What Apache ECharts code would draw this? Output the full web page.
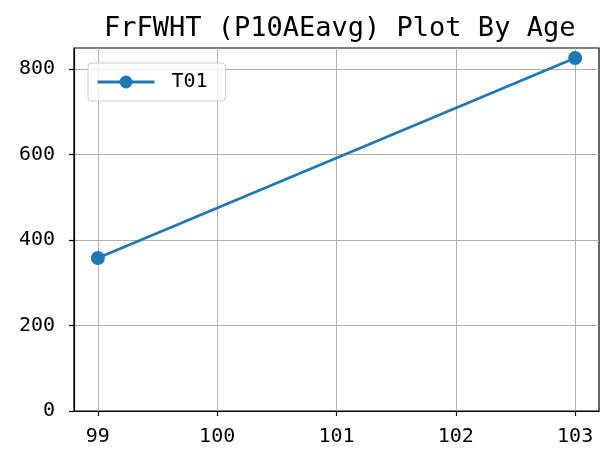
<!DOCTYPE html>
<html><head><meta charset="utf-8">
<script src="https://cdn.jsdelivr.net/npm/echarts@6/dist/echarts.min.js"></script>
<style>html,body{margin:0;padding:0;background:#fff}#c{width:607px;height:455px}</style>
</head><body><div id="c"></div>
<script>
const titleText = 'FrFWHT (P10AEavg) Plot By Age';
const seriesName = 'T01';
const ages = [99, 103];
const values = [358, 826];
const xTicks = [99, 100, 101, 102, 103];
const yTicks = [0, 200, 400, 600, 800];

const FONT = 'DejaVu Sans Mono';
const chart = echarts.init(document.getElementById('c'), null, {renderer: 'canvas'});
chart.setOption({
  animation: false,
  backgroundColor: '#fff',
  title: {
    text: titleText, left: 99, top: 10,
    textStyle: {fontFamily: FONT, fontSize: 27, fontWeight: 'normal', color: '#000'}
  },
  legend: {
    left: 88, top: 63, padding: [9, 18, 9, 8], itemWidth: 57, itemHeight: 16, itemGap: 10,
    backgroundColor: 'rgba(255,255,255,0.8)', borderColor: '#cccccc', borderWidth: 1, borderRadius: 4,
    textStyle: {fontFamily: FONT, fontSize: 20, color: '#000', padding: [0, 0, 0, 12]},
    lineStyle: {width: 3, color: '#1f77b4'},
    itemStyle: {color: '#1f77b4'},
    data: [seriesName]
  },
  grid: {left: 74, right: 8, top: 48, bottom: 44, show: true, borderColor: '#000', borderWidth: 1.2, backgroundColor: 'transparent'},
  xAxis: {
    type: 'value', min: 98.8, max: 103.2,
    axisLine: {show: true, lineStyle: {color: '#000', width: 1.2}},
    axisTick: {show: true, customValues: xTicks, length: 5, lineStyle: {color: '#000', width: 1.2}},
    axisLabel: {customValues: xTicks, margin: 16, fontFamily: FONT, fontSize: 20, color: '#000'},
    splitLine: {show: true, lineStyle: {color: '#b0b0b0', width: 1}}
  },
  yAxis: {
    type: 'value', min: 0, max: 849.4,
    axisLine: {show: true, lineStyle: {color: '#000', width: 1.2}},
    axisTick: {show: true, customValues: yTicks, length: 5, lineStyle: {color: '#000', width: 1.2}},
    axisLabel: {customValues: yTicks, margin: 19, fontFamily: FONT, fontSize: 20, color: '#000'},
    splitLine: {show: true, lineStyle: {color: '#b0b0b0', width: 1}}
  },
  series: [{
    name: seriesName, type: 'line', data: ages.map((a, i) => [a, values[i]]),
    symbol: 'circle', symbolSize: 14, color: '#1f77b4',
    lineStyle: {width: 2.5, color: '#1f77b4'}, itemStyle: {color: '#1f77b4'}
  }]
});
</script></body></html>
